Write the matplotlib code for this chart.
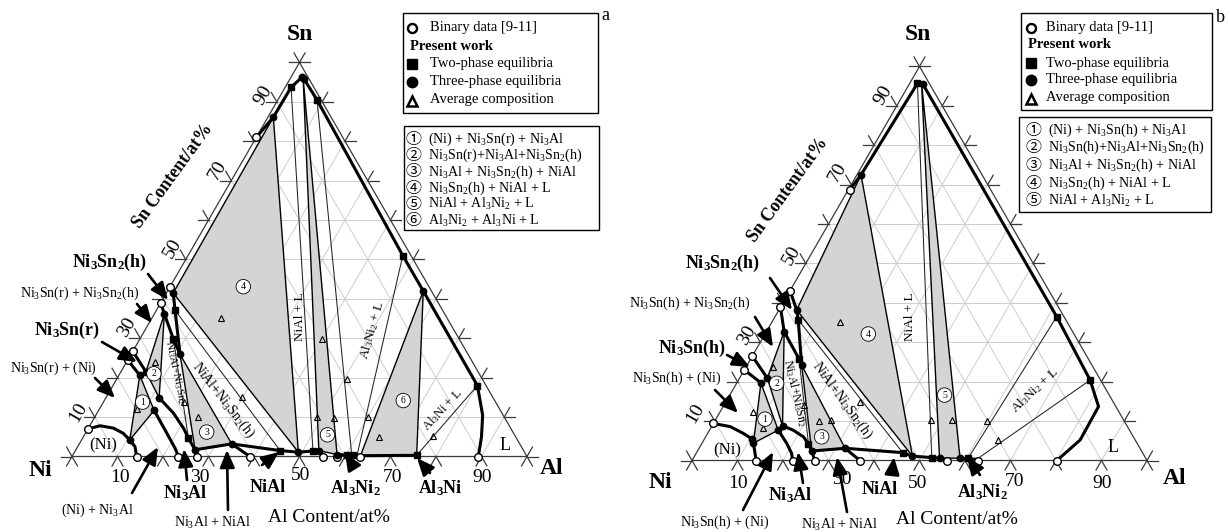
import re
import numpy as np
import matplotlib
matplotlib.use("Agg")
import matplotlib.pyplot as plt
from matplotlib.patches import Polygon, Rectangle, FancyArrowPatch
from matplotlib.lines import Line2D

plt.rcParams["font.family"] = ["Liberation Serif", "DejaVu Serif"]
plt.rcParams["mathtext.fontset"] = "custom"
plt.rcParams["mathtext.rm"] = "Liberation Serif"
plt.rcParams["mathtext.it"] = "Liberation Serif:italic"
plt.rcParams["mathtext.bf"] = "Liberation Serif:bold"

W, H = 1230, 532
SQ3 = np.sqrt(3) / 2
PX = 4.55  # pixels per at.% along a triangle edge

# ---------------------------------------------------------------------------
# Compositions are given as (Al at.%, Sn at.%); Ni is the balance.
# ---------------------------------------------------------------------------

# ---- section a ----
A_TIE_TRIANGLES = [
    [(10.6, 4.2), (4.6, 20.6), (12.2, 11.7)],
    [(5.5, 21.5), (2.2, 36.2), (11.7, 14.9)],
    [(26.2, 1.7), (10.8, 25.9), (33.5, 3.2)],
    [(1.5, 41.5), (1.2, 86.1), (49.2, 1.1)],
    [(2.8, 96.0), (53.5, 1.5), (58.0, 0.5)],
    [(63.3, 0.2), (56.2, 42.0), (75.6, 0.3)],
]
A_BOUNDARIES = [
    [(0, 7.0), (2.3, 7.8), (5.5, 7.2), (8.3, 5.9), (10.6, 4.2), (12.6, 2.5), (14.2, 0)],
    [(0, 24.5), (4.6, 20.6)],
    [(0, 26.7), (5.5, 21.5)],
    [(12.2, 11.7), (17.9, 5.9), (21.6, 2.1), (23.4, 0)],
    [(11.7, 14.9), (16.8, 11.0), (20.9, 7.2), (23.3, 4.6), (26.2, 1.7), (27.4, 0)],
    [(0, 39.0), (2.2, 36.2), (7.3, 29.9), (10.8, 25.9)],
    [(0, 43.0), (1.5, 41.5), (4.1, 37.1), (10.8, 25.9)],
    [(26.2, 1.7), (33.5, 3.2), (45.0, 1.5), (49.2, 1.1), (53.5, 1.5)],
    [(33.5, 3.2), (39.1, 0)],
    [(58.0, 0.5), (63.3, 0.2), (75.6, 0.3)],
    [(0, 81.0), (1.2, 86.1), (1.3, 93.7), (2.4, 96.2), (3.1, 95.8), (8.6, 90.5),
     (47.2, 51.0), (56.2, 42.0), (80.1, 18.0), (85.0, 10.5), (87.5, 5.0), (89.3, 0)],
]
A_TIE_LINES = [
    [(4.1, 37.1), (45.0, 1.5)],
    [(7.3, 29.9), (23.3, 4.6)],
    [(1.3, 93.7), (52.2, 1.5)],
    [(8.6, 90.5), (61.1, 0.7)],
    [(47.2, 51.0), (62.5, 0.3)],
    [(75.6, 0.3), (80.1, 18.0)],
]
A_BINARY = [(0, 7.0), (14.2, 0), (0, 24.5), (0, 26.7), (23.4, 0), (27.4, 0), (0, 39.0),
            (0, 43.0), (39.1, 0), (0, 81.0), (55.2, 0), (58.2, 0), (63.3, 0), (89.3, 0)]
A_TWO_PHASE = [(1.3, 93.7), (8.6, 90.5), (47.2, 51.0), (80.1, 18.0), (4.1, 37.1),
               (7.3, 29.9), (23.3, 4.6), (45.0, 1.5), (52.2, 1.5), (60.1, 0.5),
               (61.6, 0.5), (75.6, 0.3)]
A_THREE_PHASE = [(10.6, 4.2), (4.6, 20.6), (12.2, 11.7), (5.5, 21.5), (2.2, 36.2),
                 (11.7, 14.9), (26.2, 1.7), (10.8, 25.9), (33.5, 3.2), (1.5, 41.5),
                 (1.2, 86.1), (49.2, 1.1), (2.4, 96.2), (3.1, 95.8), (53.5, 1.5),
                 (58.0, 0.5), (56.2, 42.0)]
A_AVERAGE = [(39.9, 29.9), (50.5, 19.7), (48.8, 10.0), (52.7, 9.7), (60.1, 10.0),
             (65.1, 4.9), (76.8, 5.3), (15.1, 35.2), (6.2, 24.1), (8.3, 12.1),
             (17.7, 13.8), (22.8, 10.0), (29.7, 15.2)]
A_LEGEND_ROWS = ["(Ni) + Ni3Sn(r) + Ni3Al", "Ni3Sn(r)+Ni3Al+Ni3Sn2(h)",
                 "Ni3Al + Ni3Sn2(h) + NiAl", "Ni3Sn2(h) + NiAl + L",
                 "NiAl + Al3Ni2 + L", "Al3Ni2 + Al3Ni + L"]

# ---- section b ----
B_TIE_TRIANGLES = [
    [(11.3, 4.4), (5.3, 19.7), (15.1, 7.7)],
    [(6.1, 20.9), (3.9, 32.7), (15.5, 8.8)],
    [(25.1, 2.4), (12.0, 24.2), (32.1, 3.1)],
    [(3.9, 38.2), (0.9, 72.5), (47.9, 1.1)],
    [(2.6, 95.7), (54.1, 0.6), (58.6, 0.6)],
]
B_BOUNDARIES = [
    [(0, 9.4), (4.1, 8.6), (7.8, 6.9), (10.4, 5.5), (11.3, 4.4), (12.7, 2.2), (14.1, 0)],
    [(0, 23.0), (5.3, 19.7)],
    [(0, 26.5), (6.1, 20.9)],
    [(15.1, 7.7), (18.6, 4.4), (21.0, 1.8), (22.1, 0)],
    [(15.5, 8.8), (18.4, 7.7), (21.5, 6.0), (23.5, 4.2), (25.1, 2.4), (27.0, 0)],
    [(0, 38.9), (3.9, 32.7), (10.7, 25.7), (12.0, 24.2)],
    [(0, 43.1), (3.9, 38.2), (5.5, 35.7), (12.0, 24.2)],
    [(25.1, 2.4), (32.1, 3.1), (45.3, 2.0), (47.9, 1.1), (54.1, 0.6)],
    [(32.1, 3.1), (36.9, 0)],
    [(58.6, 0.6), (62.4, 0.3)],
    [(0.3, 68.7), (0.9, 72.5), (1.7, 95.7), (2.9, 95.6), (61.9, 36.5), (77.3, 20.4),
     (82.5, 13.7), (82.7, 5.2), (80.2, 0)],
]
B_TIE_LINES = [
    [(5.5, 35.7), (45.3, 2.0)],
    [(10.7, 25.7), (23.5, 4.2)],
    [(1.7, 95.7), (52.4, 0.6)],
    [(61.9, 36.5), (60.4, 0.6)],
    [(77.3, 20.4), (62.4, 0.3)],
]
B_BINARY = [(0, 9.4), (14.1, 0), (0, 23.0), (0, 26.5), (22.1, 0), (27.0, 0), (0, 38.9),
            (0, 43.1), (36.9, 0), (0.3, 68.7), (56.0, 0), (62.9, 0), (80.2, 0)]
B_TWO_PHASE = [(5.5, 35.7), (10.7, 25.7), (23.5, 4.2), (45.3, 2.0), (52.4, 0.6),
               (61.9, 36.5), (77.3, 20.4), (1.7, 95.7), (60.4, 0.6)]
B_THREE_PHASE = [(11.3, 4.4), (10.4, 5.5), (5.3, 19.7), (6.1, 20.9), (3.9, 32.7),
                 (3.9, 38.2), (12.0, 24.2), (15.1, 7.7), (15.5, 8.8), (25.1, 2.4),
                 (32.1, 3.1), (47.9, 1.1), (0.9, 72.5), (2.9, 95.6), (54.1, 0.6),
                 (58.6, 0.6)]
B_AVERAGE = [(47.3, 10.3), (51.9, 10.3), (59.9, 10.0), (64.7, 5.2), (14.9, 35.2),
             (29.5, 14.9), (25.4, 10.3), (23.0, 10.0), (17.6, 14.1), (6.0, 23.8),
             (7.3, 12.4), (11.6, 8.2)]
B_LEGEND_ROWS = ["(Ni) + Ni3Sn(h) + Ni3Al", "Ni3Sn(h)+Ni3Al+Ni3Sn2(h)",
                 "Ni3Al + Ni3Sn2(h) + NiAl", "Ni3Sn2(h) + NiAl + L",
                 "NiAl + Al3Ni2 + L"]

AXIS_TICKS = [10, 30, 50, 70, 90]
CIRCLED = ["\u2460", "\u2461", "\u2462", "\u2463", "\u2464", "\u2465"]

# ---------------------------------------------------------------------------
fig = plt.figure(figsize=(W / 100, H / 100), dpi=100)
fig.patch.set_facecolor("white")


def cart(points):
    p = np.asarray(points, dtype=float)
    return p[:, 0] + p[:, 1] / 2.0, p[:, 1] * SQ3


def chem(s, bold=False):
    fmt = r"$_\mathbf{%s}$" if bold else r"$_\mathrm{%s}$"
    return re.sub(r"(?<=[A-Za-z])(\d)", lambda m: fmt % m.group(1), s)


def make_axes(left_px, width_px, ox, oy):
    ax = fig.add_axes([left_px / W, 0, width_px / W, 1])
    ax.set_xlim((left_px - ox) / PX, (left_px + width_px - ox) / PX)
    ax.set_ylim((oy - H) / PX, oy / PX)
    ax.axis("off")
    return ax


def ftext(x, y, s, size=10, weight="normal", rot=0, ha="center", va="center", **kw):
    fig.text(x / W, 1 - y / H, s, fontsize=size, fontweight=weight, rotation=rot,
             ha=ha, va=va, rotation_mode="anchor", **kw)


def farrow(tail, head):
    fig.add_artist(FancyArrowPatch((tail[0] / W, 1 - tail[1] / H),
                                   (head[0] / W, 1 - head[1] / H),
                                   transform=fig.transFigure,
                                   arrowstyle="-|>,head_length=0.75,head_width=0.32",
                                   mutation_scale=14, lw=1.9, color="black",
                                   shrinkA=0, shrinkB=0, zorder=10))


def fmarker(x, y, **kw):
    fig.add_artist(Line2D([x / W], [1 - y / H], transform=fig.transFigure,
                          linestyle="none", **kw))


def draw_panel(ax, triangles, tri_label_pos, boundaries, ties, binary, two_phase,
               three_phase, average):
    # composition grid
    for v in range(10, 100, 10):
        for seg in ([(0, v), (100 - v, v)], [(v, 0), (v, 100 - v)],
                    [(100 - v, 0), (0, 100 - v)]):
            x, y = cart(seg)
            ax.plot(x, y, color="#cdcdcd", lw=0.7, zorder=1)
    # triangle frame and outward ticks
    x, y = cart([(0, 0), (100, 0), (0, 100), (0, 0)])
    ax.plot(x, y, color="#3a3a3a", lw=0.9, zorder=3)
    t = 2.4
    for v in range(0, 101, 10):
        base = (v, 0.0)
        left = (v / 2, v * SQ3)
        right = (100 - v / 2, v * SQ3)
        for (x0, y0), (dx, dy) in [(base, (-0.5, -SQ3)), (base, (0.5, -SQ3)),
                                   (left, (-1, 0)), (left, (-0.5, SQ3)),
                                   (right, (1, 0)), (right, (0.5, SQ3))]:
            ax.plot([x0, x0 + t * dx], [y0, y0 + t * dy], color="#3a3a3a",
                    lw=0.9, zorder=3)
    # three-phase tie triangles
    for tri in triangles:
        x, y = cart(tri)
        ax.add_patch(Polygon(np.column_stack([x, y]), closed=True, fc="#d4d4d4",
                             ec="black", lw=1.0, zorder=2))
    for i, (al, sn) in enumerate(tri_label_pos):
        x, y = cart([(al, sn)])
        ax.text(x[0], y[0], str(i + 1), fontsize=7, ha="center", va="center",
                zorder=7, bbox=dict(boxstyle="circle,pad=0.28", fc="white",
                                    ec="black", lw=0.6))
    # tie lines
    for tie in ties:
        x, y = cart(tie)
        ax.plot(x, y, color="#222222", lw=0.75, zorder=3)
    # phase boundaries
    for b in boundaries:
        x, y = cart(b)
        ax.plot(x, y, color="black", lw=2.2, zorder=5, solid_capstyle="round",
                solid_joinstyle="round")
    # experimental points
    x, y = cart(binary)
    ax.plot(x, y, "o", ms=5.5, mfc="white", mec="black", mew=1.0, zorder=6)
    x, y = cart(two_phase)
    ax.plot(x, y, "s", ms=4.0, color="black", zorder=6)
    x, y = cart(three_phase)
    ax.plot(x, y, "o", ms=4.6, color="black", zorder=6)
    x, y = cart(average)
    ax.plot(x, y, "^", ms=5.0, mfc="none", mec="black", mew=0.8, zorder=6)


def draw_legends(box1, rows1, mx, tx, box2, rows2, cx, ctx, entries):
    l, t, r, b = box1
    fig.add_artist(Rectangle((l / W, 1 - b / H), (r - l) / W, (b - t) / H,
                             transform=fig.transFigure, fc="white", ec="black",
                             lw=1.0, zorder=8))
    fmarker(mx, rows1[0], marker="o", ms=6.5, mfc="white", mec="black", mew=1.7, zorder=9)
    ftext(tx, rows1[0], "Binary data [9-11]", 10.5, ha="left", zorder=9)
    ftext(l + 7, rows1[1], "Present work", 10.5, "bold", ha="left", zorder=9)
    fmarker(mx, rows1[2], marker="s", ms=7, color="black", zorder=9)
    ftext(tx, rows1[2], "Two-phase equilibria", 10.5, ha="left", zorder=9)
    fmarker(mx, rows1[3], marker="o", ms=7.5, color="black", zorder=9)
    ftext(tx, rows1[3], "Three-phase equilibria", 10.5, ha="left", zorder=9)
    fmarker(mx, rows1[4] + 0.5, marker="^", ms=7.5, mfc="white", mec="black",
            mew=1.8, zorder=9)
    ftext(tx, rows1[4], "Average composition", 10.5, ha="left", zorder=9)

    l, t, r, b = box2
    fig.add_artist(Rectangle((l / W, 1 - b / H), (r - l) / W, (b - t) / H,
                             transform=fig.transFigure, fc="white", ec="black",
                             lw=1.0, zorder=8))
    for i, (y, s) in enumerate(zip(rows2, entries)):
        ftext(cx, y, CIRCLED[i], 11.5, family=["Noto Sans CJK JP", "DejaVu Sans"],
              color="black", zorder=9)
        ftext(ctx, y, chem(s), 10.1, ha="left", zorder=9)


# ---------------------------------------------------------------------------
# section a
ax_a = make_axes(0, 615, 72, 456.5)
draw_panel(ax_a, A_TIE_TRIANGLES,
           [(8.6, 13.8), (7.5, 21.0), (26.5, 6.2), (16.1, 43.1), (53.4, 5.5), (65.7, 14.2)],
           A_BOUNDARIES, A_TIE_LINES, A_BINARY, A_TWO_PHASE, A_THREE_PHASE, A_AVERAGE)

# section b
ax_b = make_axes(615, 615, 692, 460.5)
draw_panel(ax_b, B_TIE_TRIANGLES,
           [(10.8, 10.5), (8.8, 19.6), (25.5, 6.0), (22.7, 32.1), (47.2, 16.6)],
           B_BOUNDARIES, B_TIE_LINES, B_BINARY, B_TWO_PHASE, B_THREE_PHASE, B_AVERAGE)

# axis tick labels
for v, xa, xb, ya, yb in zip(AXIS_TICKS, [120, 200, 301, 392, 482],
                             [738, 842, 918, 1015, 1102],
                             [477, 477, 476, 477, 477], [483, 480, 483, 482, 483]):
    ftext(xa, ya, str(v), 14)
    ftext(xb, yb, str(v), 14)
for v, (xa, ya), (xb, yb) in zip(AXIS_TICKS,
                                 [(78, 412), (127, 327), (173, 248), (218, 170), (263, 95)],
                                 [(695, 413), (747, 335), (792, 255), (838, 172), (883, 95)]):
    ftext(xa, ya, str(v), 14, rot=60)
    ftext(xb, yb, str(v), 14, rot=60)

# vertex and axis titles
for s, x, y in [("Sn", 300, 35), ("Ni", 40, 471), ("Al", 552, 468),
                ("Sn", 918, 35), ("Ni", 660, 483), ("Al", 1175, 478)]:
    ftext(x, y, s, 17, "bold")
ftext(605, 16, "a", 13)
ftext(1220, 18, "b", 13)
ftext(173, 176, "Sn Content/at%", 13, "bold", rot=54)
ftext(788, 190, "Sn Content/at%", 13, "bold", rot=54)
ftext(329, 517, "Al Content/at%", 14)
ftext(957, 520, "Al Content/at%", 14)

# phase-field labels inside the triangles
for s, x, y, size, rot in [
        ("(Ni)", 103, 445, 12, 0), ("L", 505, 445, 13, 0),
        ("NiAl + L", 300, 317, 9.5, 90), ("Al3Ni2 + L", 372, 330, 9.5, 74),
        ("Al3Ni + L", 442, 410, 9, 47), ("Ni3Al+Ni3Sn2", 175, 373, 8, -78),
        ("NiAl+Ni3Sn2(h)", 223, 400, 10, -52),
        ("(Ni)", 727, 450, 12, 0), ("L", 1113, 447, 13, 0),
        ("NiAl + L", 910, 317, 9.5, 90), ("Al3Ni2 + L", 1035, 390, 9.5, 43),
        ("Ni3Al+Ni3Sn2", 795, 393, 8.5, -77), ("NiAl+Ni3Sn2(h)", 842, 400, 10, -54)]:
    ftext(x, y, chem(s), size, rot=rot, zorder=7)

# phase names with arrows
for s, x, y, bold in [
        ("Ni3Sn2(h)", 110, 262, True), ("Ni3Sn(r) + Ni3Sn2(h)", 80, 293, False),
        ("Ni3Sn(r)", 67, 330, True), ("Ni3Sn(r) + (Ni)", 53, 368, False),
        ("(Ni) + Ni3Al", 97, 510, False), ("Ni3Al", 185, 493, True),
        ("Ni3Al + NiAl", 213, 523, False), ("NiAl", 268, 487, True),
        ("Al3Ni2", 355, 488, True), ("Al3Ni", 440, 488, True),
        ("Ni3Sn2(h)", 723, 263, True), ("Ni3Sn(h) + Ni3Sn2(h)", 690, 303, False),
        ("Ni3Sn(h)", 692, 348, True), ("Ni3Sn(h) + (Ni)", 677, 378, False),
        ("Ni3Sn(h) + (Ni)", 725, 522, False), ("Ni3Al", 790, 495, True),
        ("Ni3Al + NiAl", 840, 525, False), ("NiAl", 880, 490, True),
        ("Al3Ni2", 982, 492, True)]:
    ftext(x, y, chem(s, bold), 13 if bold else 10, "bold" if bold else "normal")

for tail, head in [((148, 274), (168, 300)), ((137, 304), (152, 323)),
                   ((102, 342), (137, 362)), ((95, 378), (115, 398)),
                   ((132, 493), (158, 447)), ((187, 480), (184, 449)),
                   ((228, 510), (227, 450)), ((262, 465), (279, 452)),
                   ((353, 466), (345, 453)), ((430, 473), (417, 458)),
                   ((770, 278), (792, 310)), ((755, 317), (773, 347)),
                   ((727, 355), (750, 367)), ((715, 390), (738, 413)),
                   ((743, 510), (773, 452)), ((803, 483), (798, 452)),
                   ((847, 512), (837, 457)), ((892, 475), (894, 457)),
                   ((980, 475), (967, 457))]:
    farrow(tail, head)

# legends
draw_legends((403, 13, 598, 113), [28, 46, 64, 82, 100], 412, 430,
             (404, 126, 599, 230), [139.5 + 16.2 * i for i in range(6)], 413, 428,
             A_LEGEND_ROWS)
draw_legends((1021, 13, 1212, 110), [28, 45, 63, 80, 98], 1031, 1046,
             (1019, 117, 1211, 212), [130 + 17.7 * i for i in range(5)], 1033, 1048,
             B_LEGEND_ROWS)

fig.savefig("out.png", dpi=100, facecolor="white")
